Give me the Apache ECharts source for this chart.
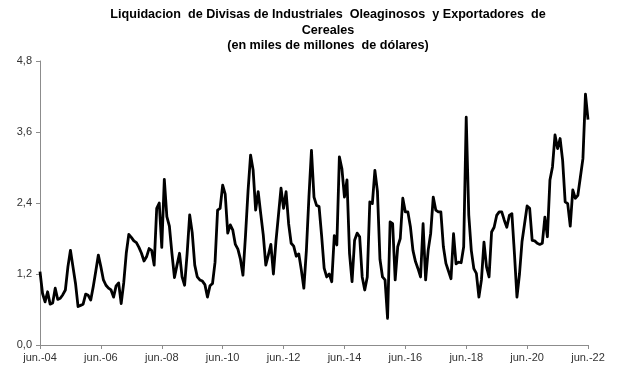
<!DOCTYPE html>
<html>
<head>
<meta charset="utf-8">
<script src="https://cdn.jsdelivr.net/npm/echarts@6/dist/echarts.min.js"></script>
<style>
html,body{margin:0;padding:0;background:#fff;}
#chart{width:617px;height:383px;}
</style>
</head>
<body>
<div id="chart"></div>
<script>
// Monthly series, jun-2004 .. jun-2022 (miles de millones de dólares)
const startYear = 2004;
const startMonth = 5; // June (0-based)
const monthNames = ['ene.','feb.','mar.','abr.','may.','jun.','jul.','ago.','sep.','oct.','nov.','dic.'];
const values = [
1.24,0.87,0.73,0.90,0.69,0.71,0.96,0.77,0.79,0.85,0.93,1.32,
1.60,1.32,1.04,0.65,0.67,0.69,0.86,0.84,0.76,0.99,1.25,1.52,
1.32,1.10,1.01,0.96,0.93,0.81,1.00,1.05,0.70,1.05,1.55,1.87,
1.82,1.76,1.73,1.65,1.55,1.42,1.49,1.63,1.60,1.35,2.31,2.40,
1.65,2.80,2.17,2.01,1.55,1.14,1.35,1.55,1.15,1.01,1.55,2.20,
1.90,1.35,1.15,1.10,1.08,1.02,0.81,1.00,1.04,1.40,2.28,2.31,
2.70,2.55,1.89,2.03,1.94,1.70,1.62,1.45,1.18,1.85,2.60,3.21,
2.96,2.28,2.59,2.22,1.86,1.35,1.52,1.70,1.20,1.75,2.20,2.65,
2.31,2.59,2.05,1.72,1.67,1.50,1.54,1.27,0.96,1.60,2.50,3.29,
2.50,2.36,2.34,1.85,1.30,1.15,1.20,1.07,1.85,1.69,3.18,2.98,
2.50,2.79,1.55,1.07,1.77,1.89,1.83,1.15,0.93,1.15,2.42,2.39,
2.95,2.60,1.45,1.15,1.10,0.45,2.08,2.05,1.10,1.66,1.80,2.48,
2.25,2.25,2.00,1.60,1.41,1.29,1.15,2.05,1.10,1.60,1.89,2.50,
2.28,2.25,2.25,1.66,1.38,1.25,1.12,1.88,1.37,1.40,1.39,1.66,
3.85,2.20,1.60,1.29,1.21,0.81,1.10,1.74,1.32,1.15,1.91,1.99,
2.19,2.25,2.25,2.11,1.99,2.19,2.22,1.55,0.81,1.20,1.75,2.05,
2.35,2.31,1.77,1.76,1.72,1.70,1.72,2.16,1.83,2.79,3.01,3.55,
3.32,3.49,3.12,2.42,2.39,2.01,2.62,2.48,2.53,2.84,3.15,4.24,
3.81
];
const yTicks = [0, 1.2, 2.4, 3.6, 4.8];
const titleLines = [
  'Liquidacion  de Divisas de Industriales  Oleaginosos  y Exportadores  de',
  'Cereales',
  '(en miles de millones  de dólares)'
];

const categories = values.map((_, i) => {
  const m = (startMonth + i) % 12;
  const y = startYear + Math.floor((startMonth + i) / 12);
  return monthNames[m] + '-' + String(y % 100).padStart(2, '0');
});

const chart = echarts.init(document.getElementById('chart'), null, {renderer: 'canvas'});
chart.setOption({
  animation: false,
  backgroundColor: '#ffffff',
  title: {
    text: titleLines.join('\n'),
    left: 323,
    top: 2,
    textAlign: 'center',
    textStyle: {
      fontFamily: 'Liberation Sans, Arial, sans-serif',
      fontWeight: 'bold',
      fontSize: 12.6,
      lineHeight: 15.5,
      color: '#000'
    }
  },
  grid: {left: 40, right: 29, top: 61, bottom: 38, containLabel: false},
  xAxis: {
    type: 'category',
    data: categories,
    boundaryGap: false,
    axisLine: {lineStyle: {color: '#8c8c8c', width: 1}},
    axisTick: {show: true, interval: 23, length: 4, lineStyle: {color: '#8c8c8c'}},
    axisLabel: {
      interval: 23,
      margin: 7,
      fontFamily: 'Liberation Sans, Arial, sans-serif',
      fontSize: 11,
      color: '#333'
    },
    splitLine: {show: false}
  },
  yAxis: {
    type: 'value',
    min: yTicks[0],
    max: yTicks[yTicks.length - 1],
    interval: 1.2,
    axisLine: {show: true, lineStyle: {color: '#8c8c8c', width: 1}},
    axisTick: {show: true, length: 4, lineStyle: {color: '#8c8c8c'}},
    axisLabel: {
      margin: 8,
      formatter: v => v.toFixed(1).replace('.', ','),
      fontFamily: 'Liberation Sans, Arial, sans-serif',
      fontSize: 11,
      color: '#333'
    },
    splitLine: {show: false}
  },
  series: [{
    type: 'line',
    data: values,
    showSymbol: false,
    symbol: 'none',
    smooth: false,
    lineStyle: {color: '#000', width: 2.8, join: 'round'}
  }]
});
</script>
</body>
</html>
